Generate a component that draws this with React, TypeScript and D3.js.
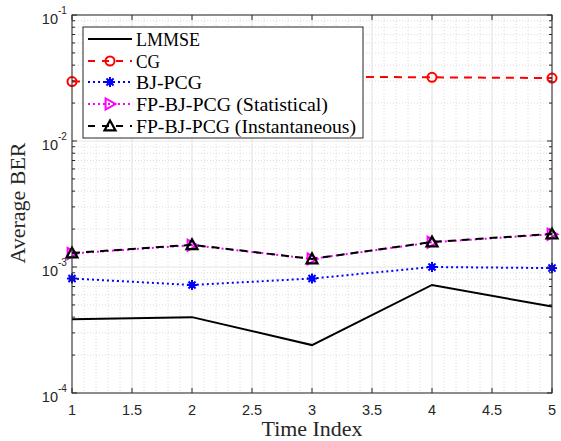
import React from "react";
import * as d3 from "d3";

const timeIndex = [1, 2, 3, 4, 5];
const lmmse = [3.85e-4, 4.0e-4, 2.4e-4, 7.2e-4, 4.85e-4];
const cg = [0.0296, 0.031, 0.0325, 0.032, 0.0316];
const bjpcg = [8.1e-4, 7.2e-4, 8.1e-4, 1.0e-3, 9.8e-4];
const fpStat = [1.28e-3, 1.49e-3, 1.16e-3, 1.57e-3, 1.82e-3];
const fpInst = [1.29e-3, 1.5e-3, 1.16e-3, 1.58e-3, 1.83e-3];
const xTicks = [1, 1.5, 2, 2.5, 3, 3.5, 4, 4.5, 5];
const yTickExps = [-1, -2, -3, -4];
const legendLabels = [
  "LMMSE",
  "CG",
  "BJ-PCG",
  "FP-BJ-PCG (Statistical)",
  "FP-BJ-PCG (Instantaneous)",
];

const W = 561;
const H = 441;
const M = { left: 72, right: 552, top: 15, bottom: 393 };

const x = d3.scaleLinear().domain([1, 5]).range([M.left, M.right]);
const y = d3.scaleLog().domain([1e-4, 1e-1]).range([M.bottom, M.top]);

type Series = {
  name: string;
  values: number[];
  color: string;
  dash: string;
  marker: "none" | "circle" | "star" | "rtri" | "utri";
};

const series: Series[] = [
  { name: legendLabels[0], values: lmmse, color: "#000000", dash: "", marker: "none" },
  { name: legendLabels[1], values: cg, color: "#ff0000", dash: "8,6", marker: "circle" },
  { name: legendLabels[2], values: bjpcg, color: "#0000ff", dash: "2,3", marker: "star" },
  { name: legendLabels[3], values: fpStat, color: "#ff00ff", dash: "2,3", marker: "rtri" },
  { name: legendLabels[4], values: fpInst, color: "#000000", dash: "8,6", marker: "utri" },
];

function Marker({ kind, cx, cy, color }: { kind: string; cx: number; cy: number; color: string }) {
  if (kind === "circle") {
    return <circle cx={cx} cy={cy} r={4.5} fill="none" stroke={color} strokeWidth={2} />;
  }
  if (kind === "star") {
    const r = 5;
    const lines = [0, 45, 90, 135].map((a) => {
      const rad = (a * Math.PI) / 180;
      return (
        <line
          key={a}
          x1={cx - r * Math.cos(rad)}
          y1={cy - r * Math.sin(rad)}
          x2={cx + r * Math.cos(rad)}
          y2={cy + r * Math.sin(rad)}
          stroke={color}
          strokeWidth={2}
        />
      );
    });
    return (
      <g>
        {lines}
        <circle cx={cx} cy={cy} r={3} fill={color} />
      </g>
    );
  }
  if (kind === "rtri") {
    const s = 5.5;
    const pts = `${cx - s * 0.8},${cy - s} ${cx - s * 0.8},${cy + s} ${cx + s},${cy}`;
    return <polygon points={pts} fill="none" stroke={color} strokeWidth={2} />;
  }
  if (kind === "utri") {
    const s = 5.5;
    const pts = `${cx - s},${cy + s * 0.8} ${cx + s},${cy + s * 0.8} ${cx},${cy - s}`;
    return <polygon points={pts} fill="none" stroke={color} strokeWidth={2.2} />;
  }
  return null;
}

export default function App() {
  const line = d3
    .line<number>()
    .x((_, i) => x(timeIndex[i]))
    .y((d) => y(d));

  const minorX = d3.range(1, 5.0001, 0.1).map((v) => Math.round(v * 10) / 10);
  const minorY: number[] = [];
  for (let e = -4; e < -1; e++) {
    for (let k = 2; k <= 9; k++) minorY.push(k * Math.pow(10, e));
  }
  const axisColor = "#262626";
  const serif = "'Liberation Serif', 'DejaVu Serif', serif";
  const sans = "'Liberation Sans', Arial, sans-serif";

  const legX = 83;
  const legY = 27;
  const legW = 280;
  const legH = 111;
  const legRows = [39, 61, 82, 104, 126];
  const legTextLen = [64, 24, 66, 192, 220];

  return (
    <svg width={W} height={H} style={{ position: "absolute", left: 0, top: 0, background: "#fff" }}>
      <rect x={0} y={0} width={W} height={H} fill="#ffffff" />
      {/* minor grid */}
      {minorX.map((v) => (
        <line key={"mx" + v} x1={x(v)} x2={x(v)} y1={M.top} y2={M.bottom} stroke="#dcdcdc" strokeWidth={1} strokeDasharray="1,2" />
      ))}
      {minorY.map((v) => (
        <line key={"my" + v} x1={M.left} x2={M.right} y1={y(v)} y2={y(v)} stroke="#dcdcdc" strokeWidth={1} strokeDasharray="1,2" />
      ))}
      {/* major grid */}
      {xTicks.map((v) => (
        <line key={"gx" + v} x1={x(v)} x2={x(v)} y1={M.top} y2={M.bottom} stroke="#e6e6e6" strokeWidth={1} />
      ))}
      {yTickExps.map((e) => (
        <line key={"gy" + e} x1={M.left} x2={M.right} y1={y(Math.pow(10, e))} y2={y(Math.pow(10, e))} stroke="#e6e6e6" strokeWidth={1} />
      ))}

      {/* series */}
      {series.map((s) => (
        <g key={s.name}>
          <path d={line(s.values) || ""} fill="none" stroke={s.color} strokeWidth={2} strokeDasharray={s.dash} />
          {s.values.map((v, i) => (
            <Marker key={i} kind={s.marker} cx={x(timeIndex[i])} cy={y(v)} color={s.color} />
          ))}
        </g>
      ))}

      {/* axes box */}
      <rect x={M.left} y={M.top} width={M.right - M.left} height={M.bottom - M.top} fill="none" stroke={axisColor} strokeWidth={1} />
      {/* x ticks */}
      {xTicks.map((v) => (
        <g key={"tx" + v}>
          <line x1={x(v)} x2={x(v)} y1={M.bottom} y2={M.bottom - 5} stroke={axisColor} />
          <line x1={x(v)} x2={x(v)} y1={M.top} y2={M.top + 5} stroke={axisColor} />
          <text x={x(v)} y={M.bottom + 22} textAnchor="middle" fontFamily={sans} fontSize={14.5} fill={axisColor}>
            {String(v)}
          </text>
        </g>
      ))}
      {/* y ticks */}
      {yTickExps.map((e) => {
        const yy = y(Math.pow(10, e));
        return (
          <g key={"ty" + e}>
            <line x1={M.left} x2={M.left + 5} y1={yy} y2={yy} stroke={axisColor} />
            <line x1={M.right} x2={M.right - 5} y1={yy} y2={yy} stroke={axisColor} />
            <text x={58} y={yy + 8.5} textAnchor="end" fontFamily={sans} fontSize={14.5} fill={axisColor}>
              10
            </text>
            <text x={58} y={yy - 1.5} textAnchor="start" fontFamily={sans} fontSize={10} fill={axisColor}>
              {String(e)}
            </text>
          </g>
        );
      })}
      {minorY.map((v) => (
        <g key={"mty" + v}>
          <line x1={M.left} x2={M.left + 3} y1={y(v)} y2={y(v)} stroke={axisColor} />
          <line x1={M.right} x2={M.right - 3} y1={y(v)} y2={y(v)} stroke={axisColor} />
        </g>
      ))}

      {/* axis labels */}
      <text x={312} y={436} textAnchor="middle" fontFamily={serif} fontSize={21} fill={axisColor} textLength={101} lengthAdjust="spacingAndGlyphs">
        Time Index
      </text>
      <text transform={`translate(25, ${203}) rotate(-90)`} textAnchor="middle" fontFamily={serif} fontSize={21} fill={axisColor} textLength={121} lengthAdjust="spacingAndGlyphs">
        Average BER
      </text>

      {/* legend */}
      <rect x={legX} y={legY} width={legW} height={legH} fill="#ffffff" stroke={axisColor} strokeWidth={1} />
      {series.map((s, i) => (
        <g key={"leg" + i}>
          <line x1={88} x2={132} y1={legRows[i]} y2={legRows[i]} stroke={s.color} strokeWidth={2} strokeDasharray={s.dash === "8,6" ? "7,7" : s.dash} />
          <Marker kind={s.marker} cx={110} cy={legRows[i]} color={s.color} />
          <text x={136} y={legRows[i] + 6.5} fontFamily={serif} fontSize={19} fill="#000" textLength={legTextLen[i]} lengthAdjust="spacingAndGlyphs">
            {s.name}
          </text>
        </g>
      ))}
    </svg>
  );
}
